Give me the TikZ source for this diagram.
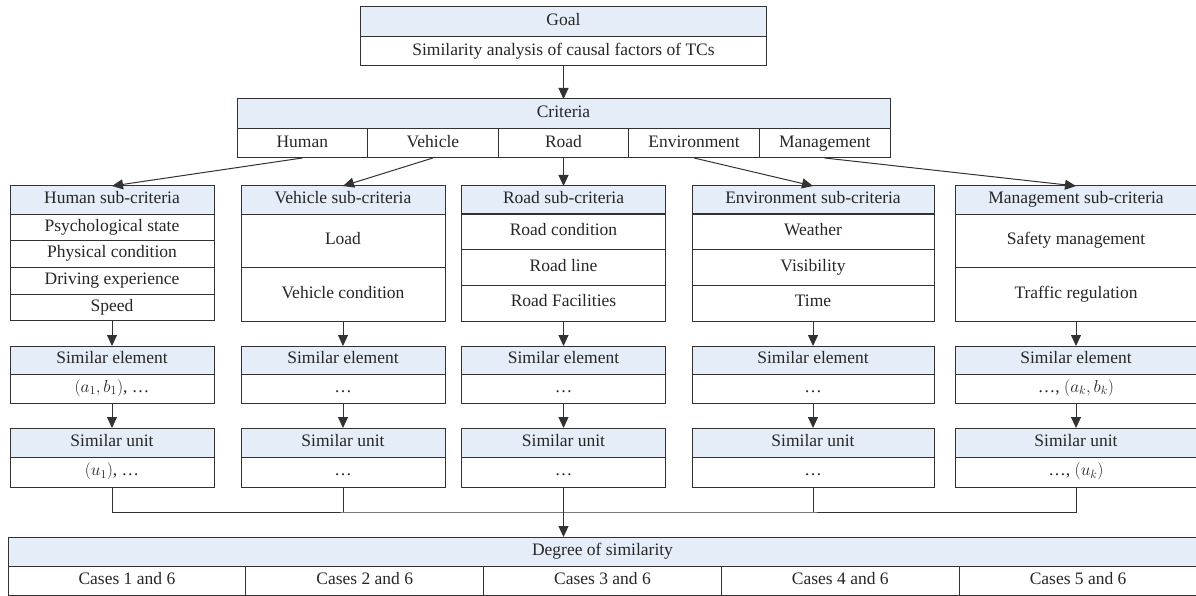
\documentclass[tikz,border=0pt]{standalone}
\usepackage{fontspec}
\setmainfont{Liberation Serif}
\usetikzlibrary{arrows.meta}
\definecolor{hdrblue}{RGB}{229,237,248}
\definecolor{linegray}{RGB}{50,50,50}

\begin{document}
\begin{tikzpicture}[x=1pt,y=-1pt,
		every node/.style={draw=linegray,line width=1pt,inner sep=0pt,outer sep=0pt,
			text=black!85,font=\fontsize{17.5}{20}\selectfont,text height=0.95em,text depth=0.2em},
		hdr/.style={fill=hdrblue},
		con/.style={draw=linegray,line width=1pt},
		arr/.style={con,-{Triangle[length=11pt,width=10pt]}}]
			\useasboundingbox (0,0) rectangle (1196,596);
			% goal
			\node [hdr,minimum width=406,minimum height=30] (goal) at (563.5,22) {Goal};
			\node [minimum width=406,minimum height=29] (goaltxt) at (563.5,51.5) {Similarity analysis of causal factors of TCs};
			% criteria
			\node [hdr,minimum width=653,minimum height=30] (crit) at (563.5,114) {Criteria};
			\node [minimum width=130.6,minimum height=29] (c1) at (302.3,143.5) {Human};
			\node [minimum width=130.6,minimum height=29] (c2) at (432.9,143.5) {Vehicle};
			\node [minimum width=130.6,minimum height=29] (c3) at (563.5,143.5) {Road};
			\node [minimum width=130.6,minimum height=29] (c4) at (694.1,143.5) {Environment};
			\node [minimum width=130.6,minimum height=29] (c5) at (824.7,143.5) {Management};
			\draw [arr] (goaltxt.south) -- (crit.north);
			% sub-criteria
			\node [hdr,minimum width=204,minimum height=28] (hs) at (112,200) {Human sub-criteria};
			\node [minimum width=204,minimum height=26.75] (hs1) at (112,227.4) {Psychological state};
			\node [minimum width=204,minimum height=26.75] (hs2) at (112,254.1) {Physical condition};
			\node [minimum width=204,minimum height=26.75] (hs3) at (112,280.9) {Driving experience};
			\node [minimum width=204,minimum height=26.75] (hs4) at (112,307.6) {Speed};
			\node [hdr,minimum width=204,minimum height=28] (vs) at (343,200) {Vehicle sub-criteria};
			\node [minimum width=204,minimum height=53.5] (vs1) at (343,240.75) {Load};
			\node [minimum width=204,minimum height=53.5] (vs2) at (343,294.25) {Vehicle condition};
			\node [hdr,minimum width=204,minimum height=28] (rs) at (563.5,200) {Road sub-criteria};
			\node [minimum width=204,minimum height=35.67] (rs1) at (563.5,231.8) {Road condition};
			\node [minimum width=204,minimum height=35.67] (rs2) at (563.5,267.5) {Road line};
			\node [minimum width=204,minimum height=35.67] (rs3) at (563.5,303.2) {Road Facilities};
			\node [hdr,minimum width=242,minimum height=28] (es) at (813,200) {Environment sub-criteria};
			\node [minimum width=242,minimum height=35.67] (es1) at (813,231.8) {Weather};
			\node [minimum width=242,minimum height=35.67] (es2) at (813,267.5) {Visibility};
			\node [minimum width=242,minimum height=35.67] (es3) at (813,303.2) {Time};
			\node [hdr,minimum width=242,minimum height=28] (ms) at (1076,200) {Management sub-criteria};
			\node [minimum width=242,minimum height=53.5] (ms1) at (1076,240.75) {Safety management};
			\node [minimum width=242,minimum height=53.5] (ms2) at (1076,294.25) {Traffic regulation};
			\draw [arr] (c1.south) -- (hs.north);
			\draw [arr] (c2.south) -- (vs.north);
			\draw [arr] (c3.south) -- (rs.north);
			\draw [arr] (c4.south) -- (es.north);
			\draw [arr] (c5.south) -- (ms.north);
			% similar elements
			\node [hdr,minimum width=204,minimum height=28] (hse) at (112,360) {Similar element};
			\node [minimum width=204,minimum height=29] (hse2) at (112,388.5) {$(a_1, b_1)$, \dots};
			\node [hdr,minimum width=204,minimum height=28] (vse) at (343,360) {Similar element};
			\node [minimum width=204,minimum height=29] (vse2) at (343,388.5) {\dots};
			\node [hdr,minimum width=204,minimum height=28] (rse) at (563.5,360) {Similar element};
			\node [minimum width=204,minimum height=29] (rse2) at (563.5,388.5) {\dots};
			\node [hdr,minimum width=242,minimum height=28] (ese) at (813,360) {Similar element};
			\node [minimum width=242,minimum height=29] (ese2) at (813,388.5) {\dots};
			\node [hdr,minimum width=242,minimum height=28] (mse) at (1076,360) {Similar element};
			\node [minimum width=242,minimum height=29] (mse2) at (1076,388.5) {\dots, $(a_k, b_k)$};
			\draw [arr] (hs4.south) -- (hse.north);
			\draw [arr] (vs2.south) -- (vse.north);
			\draw [arr] (rs3.south) -- (rse.north);
			\draw [arr] (es3.south) -- (ese.north);
			\draw [arr] (ms2.south) -- (mse.north);
			% similar units
			\node [hdr,minimum width=204,minimum height=29] (hsu) at (112,442.5) {Similar unit};
			\node [minimum width=204,minimum height=30] (hsu2) at (112,472) {$(u_1)$, \dots};
			\node [hdr,minimum width=204,minimum height=29] (vsu) at (343,442.5) {Similar unit};
			\node [minimum width=204,minimum height=30] (vsu2) at (343,472) {\dots};
			\node [hdr,minimum width=204,minimum height=29] (rsu) at (563.5,442.5) {Similar unit};
			\node [minimum width=204,minimum height=30] (rsu2) at (563.5,472) {\dots};
			\node [hdr,minimum width=242,minimum height=29] (esu) at (813,442.5) {Similar unit};
			\node [minimum width=242,minimum height=30] (esu2) at (813,472) {\dots};
			\node [hdr,minimum width=242,minimum height=29] (msu) at (1076,442.5) {Similar unit};
			\node [minimum width=242,minimum height=30] (msu2) at (1076,472) {\dots, $(u_k)$};
			\draw [arr] (hse2.south) -- (hsu.north);
			\draw [arr] (vse2.south) -- (vsu.north);
			\draw [arr] (rse2.south) -- (rsu.north);
			\draw [arr] (ese2.south) -- (esu.north);
			\draw [arr] (mse2.south) -- (msu.north);
			% degree of similarity
			\node [hdr,minimum width=1189,minimum height=29] (deg) at (602.5,551.5) {Degree of similarity};
			\node [minimum width=237.8,minimum height=29] (d1) at (126.9,580.5) {Cases 1 and 6};
			\node [minimum width=237.8,minimum height=29] (d2) at (364.7,580.5) {Cases 2 and 6};
			\node [minimum width=237.8,minimum height=29] (d3) at (602.5,580.5) {Cases 3 and 6};
			\node [minimum width=237.8,minimum height=29] (d4) at (840.3,580.5) {Cases 4 and 6};
			\node [minimum width=237.8,minimum height=29] (d5) at (1078.1,580.5) {Cases 5 and 6};
			\coordinate (join) at (563.5,512);
			\draw [con] (hsu2.south) |- (join) -| (msu2.south);
			\draw [con] (vsu2.south) -- (vsu2.south |- join);
			\draw [con] (esu2.south) -- (esu2.south |- join);
			\draw [arr] (rsu2.south) -- (rsu2.south |- deg.north);
\end{tikzpicture}
\end{document}
